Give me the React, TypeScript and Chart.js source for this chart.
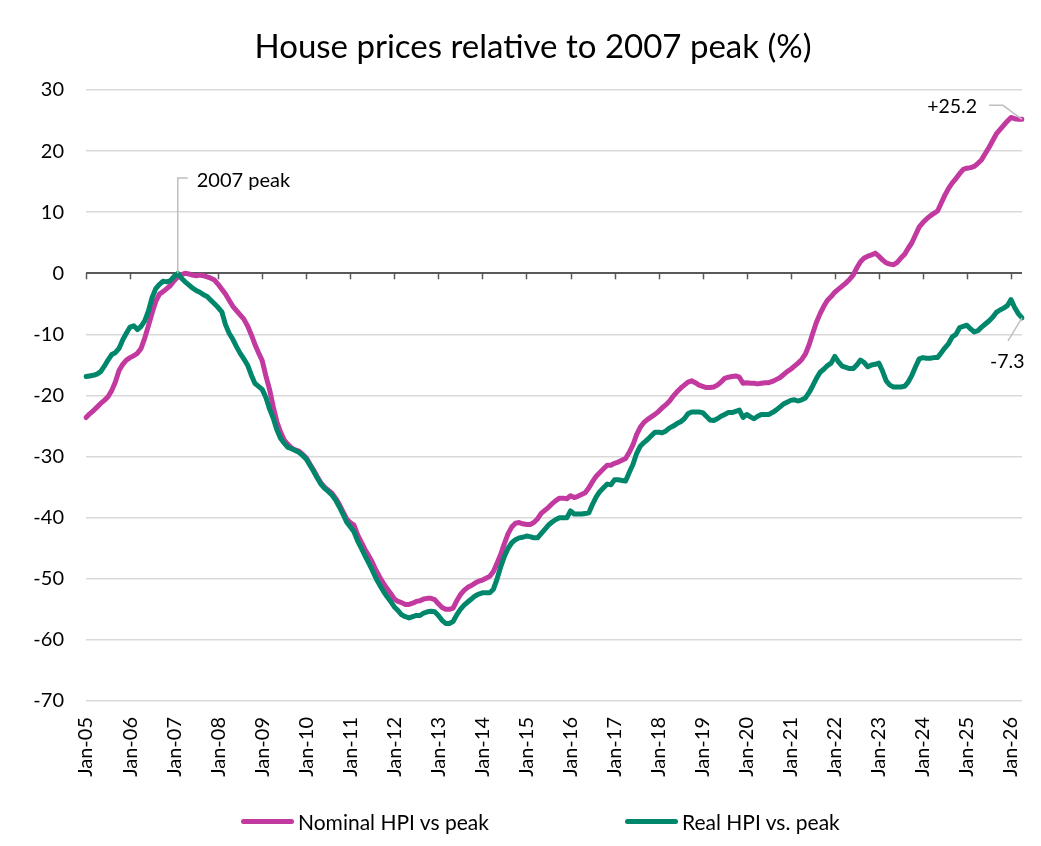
import React, { useEffect, useRef } from "react";
import { Chart, registerables } from "chart.js";

Chart.register(...registerables);

const TITLE = "House prices relative to 2007 peak (%)";
const SERIES_NAMES = ["Nominal HPI vs peak", "Real HPI vs. peak"];
const COLORS = ["#c2399f", "#00866b"];
const MONTHS = ["Jan", "Feb", "Mar", "Apr", "May", "Jun", "Jul", "Aug", "Sep", "Oct", "Nov", "Dec"];
const START_YEAR = 2005;
const Y_MIN = -70;
const Y_MAX = 30;
const Y_STEP = 10;
const PEAK_LABEL = "2007 peak";

// Monthly, Jan-05 .. Apr-26
const nominalHPI = [
  -23.6, -23.0, -22.5, -21.9, -21.3, -20.8, -20.2, -19.2, -17.8, -15.9, -14.9, -14.2,
  -13.8, -13.5, -13.1, -12.3, -10.6, -8.6, -6.5, -4.6, -3.4, -3.0, -2.5, -2.0,
  -1.2, -0.6, -0.2, 0.0, -0.1, -0.3, -0.4, -0.3, -0.4, -0.6, -0.8, -1.1,
  -1.8, -2.6, -3.4, -4.4, -5.4, -6.1, -6.8, -7.5, -8.6, -10.0, -11.6, -13.0,
  -14.3, -16.8, -19.0, -21.8, -24.3, -26.0, -27.3, -28.0, -28.6, -28.9, -29.1, -29.6,
  -30.2, -31.2, -32.2, -33.3, -34.3, -35.0, -35.5, -36.0, -36.8, -37.8, -39.0, -40.2,
  -40.8, -41.2, -42.8, -44.0, -45.2, -46.2, -47.3, -48.6, -49.7, -50.7, -51.6, -52.4,
  -53.3, -53.7, -53.9, -54.2, -54.2, -54.0, -53.7, -53.6, -53.3, -53.2, -53.2, -53.4,
  -54.1, -54.7, -55.0, -55.0, -54.8, -53.6, -52.6, -51.9, -51.4, -51.1, -50.7, -50.4,
  -50.2, -49.9, -49.6, -48.8, -47.4, -46.0, -44.2, -42.6, -41.5, -40.9, -40.8, -41.0,
  -41.1, -41.1, -40.8, -40.2, -39.3, -38.8, -38.3, -37.7, -37.2, -36.8, -36.8, -36.9,
  -36.4, -36.7, -36.5, -36.2, -35.9, -35.1, -34.1, -33.2, -32.6, -32.0, -31.4, -31.4,
  -31.1, -30.9, -30.6, -30.3, -29.3, -28.1, -26.4, -25.2, -24.4, -23.9, -23.5, -23.1,
  -22.6, -22.0, -21.5, -20.9, -20.1, -19.4, -18.8, -18.3, -17.8, -17.6, -17.9, -18.3,
  -18.5, -18.7, -18.7, -18.6, -18.3, -17.8, -17.2, -17.0, -16.9, -16.8, -17.0, -18.0,
  -17.9, -18.0, -18.0, -18.1, -18.0, -17.9, -17.9, -17.7, -17.4, -17.1, -16.6, -16.1,
  -15.7, -15.2, -14.7, -14.1, -13.2, -11.7, -9.8, -8.0, -6.6, -5.4, -4.4, -3.8,
  -3.1, -2.6, -2.1, -1.6, -1.0, -0.3, 0.9, 1.9, 2.5, 2.8, 3.0, 3.3,
  2.8, 2.2, 1.7, 1.5, 1.4, 1.8, 2.5, 3.1, 4.1, 5.0, 6.3, 7.6,
  8.3, 8.9, 9.4, 9.8, 10.2, 11.5, 12.8, 13.9, 14.8, 15.5, 16.3, 17.0,
  17.2, 17.3, 17.5, 18.0, 18.6, 19.6, 20.6, 21.7, 22.8, 23.5, 24.2, 24.9,
  25.5, 25.3, 25.2, 25.2,
];

const realHPI = [
  -16.9, -16.8, -16.7, -16.5, -16.1, -15.2, -14.2, -13.3, -13.0, -12.3, -10.9, -9.8,
  -8.8, -8.6, -9.2, -8.7, -7.8, -6.2, -4.0, -2.5, -1.8, -1.3, -1.4, -1.2,
  -0.5, 0.0, -0.8, -1.4, -1.9, -2.4, -2.8, -3.1, -3.5, -3.8, -4.4, -5.0,
  -5.6, -6.3, -8.4, -9.8, -10.8, -12.0, -13.1, -14.0, -15.0, -16.6, -18.0, -18.5,
  -19.0, -20.3, -22.2, -23.7, -25.6, -27.0, -27.8, -28.5, -28.7, -29.0, -29.3, -29.8,
  -30.4, -31.4, -32.4, -33.5, -34.5, -35.2, -35.7, -36.3, -37.1, -38.2, -39.4, -40.7,
  -41.5, -42.3, -43.8, -45.0, -46.2, -47.4, -48.6, -49.9, -51.0, -52.0, -52.9, -53.7,
  -54.6, -55.2, -55.9, -56.2, -56.4, -56.2, -56.0, -56.0, -55.6, -55.4, -55.3, -55.4,
  -56.0, -56.8, -57.3, -57.3, -57.0, -55.9, -55.0, -54.3, -53.8, -53.3, -52.8, -52.5,
  -52.3, -52.3, -52.3, -51.7, -50.0, -48.0, -46.3, -45.0, -44.1, -43.6, -43.3, -43.2,
  -43.0, -43.1, -43.3, -43.3, -42.6, -41.9, -41.2, -40.7, -40.3, -40.0, -40.0, -40.0,
  -38.9, -39.4, -39.4, -39.4, -39.3, -39.2, -37.8, -36.6, -35.7, -35.1, -34.5, -34.6,
  -33.8, -33.8, -33.9, -34.0, -32.6, -31.3, -29.5, -28.3, -27.7, -27.2, -26.6, -26.0,
  -26.0, -26.1, -25.8, -25.3, -25.0, -24.6, -24.3, -23.8, -23.0, -22.7, -22.7, -22.7,
  -22.8, -23.4, -24.0, -24.1, -23.8, -23.4, -23.1, -22.8, -22.8, -22.6, -22.4, -23.6,
  -23.1, -23.5, -23.8, -23.4, -23.1, -23.1, -23.1, -22.8, -22.4, -21.9, -21.4, -21.1,
  -20.8, -20.7, -20.9, -20.7, -20.4, -19.5, -18.4, -17.2, -16.2, -15.7, -15.1, -14.7,
  -13.6, -14.5, -15.2, -15.4, -15.6, -15.6, -15.0, -14.2, -14.6, -15.3, -15.0, -14.9,
  -14.7, -16.0, -17.6, -18.3, -18.6, -18.6, -18.6, -18.5, -17.8, -16.7, -15.3, -14.0,
  -13.8, -13.9, -13.9, -13.8, -13.8, -13.0, -12.2, -11.5, -10.4, -10.0, -8.9, -8.7,
  -8.5, -9.1, -9.6, -9.4, -8.8, -8.3, -7.8, -7.2, -6.4, -6.0, -5.7, -5.3,
  -4.3, -5.6, -6.6, -7.3,
];

const categories = nominalHPI.map(
  (_, i) => `${MONTHS[i % 12]}-${String((START_YEAR + Math.floor(i / 12)) % 100).padStart(2, "0")}`
);

const FONT = "Lato, 'Noto Sans', sans-serif";
const GREY_LEADER = "#bfbfbf";

const titlePlugin = {
  id: "customTitle",
  afterDraw(chart: any) {
    const { ctx, chartArea } = chart;
    ctx.save();
    ctx.font = `33px ${FONT}`;
    ctx.fillStyle = "#000";
    ctx.textAlign = "center";
    ctx.textBaseline = "middle";
    ctx.fillText(TITLE, (chartArea.left + chartArea.right) / 2 - 21, 47);
    ctx.restore();
  },
};

const axisTicksPlugin = {
  id: "zeroAxisTicks",
  beforeDatasetsDraw(chart: any) {
    const { ctx, scales } = chart;
    const x = scales.x;
    const y = scales.y;
    const y0 = y.getPixelForValue(0);
    ctx.save();
    ctx.strokeStyle = "#595959";
    ctx.lineWidth = 1.5;
    categories.forEach((c, i) => {
      if (c.startsWith("Jan")) {
        const px = Math.round(x.getPixelForValue(i)) + 0.5;
        ctx.beginPath();
        ctx.moveTo(px, y0);
        ctx.lineTo(px, y0 + 6);
        ctx.stroke();
      }
    });
    ctx.restore();
  },
};

const annotationPlugin = {
  id: "annotations",
  afterDatasetsDraw(chart: any) {
    const { ctx, scales } = chart;
    const x = scales.x;
    const y = scales.y;
    ctx.save();
    ctx.strokeStyle = GREY_LEADER;
    ctx.lineWidth = 1.5;
    ctx.fillStyle = "#000";
    ctx.textBaseline = "middle";

    // 2007 peak
    let peakIdx = 0;
    realHPI.forEach((v, i) => {
      if (i < 60 && v >= realHPI[peakIdx]) peakIdx = i;
    });
    const px = x.getPixelForValue(peakIdx);
    const py = y.getPixelForValue(realHPI[peakIdx]);
    const topY = y.getPixelForValue(15.6);
    ctx.beginPath();
    ctx.moveTo(px, py);
    ctx.lineTo(px, topY);
    ctx.lineTo(px + 10, topY);
    ctx.stroke();
    ctx.font = `20px ${FONT}`;
    ctx.textAlign = "left";
    ctx.fillText(PEAK_LABEL, px + 19, topY + 3);

    // last nominal
    ctx.font = `19.5px ${FONT}`;
    const last = nominalHPI.length - 1;
    const lx = x.getPixelForValue(last);
    const lyN = y.getPixelForValue(nominalHPI[last]);
    ctx.beginPath();
    ctx.moveTo(lx, lyN);
    ctx.lineTo(lx - 19, lyN - 14);
    ctx.lineTo(lx - 33, lyN - 14);
    ctx.stroke();
    ctx.textAlign = "right";
    const nomTxt = `${nominalHPI[last] > 0 ? "+" : ""}${nominalHPI[last].toFixed(1)}`;
    ctx.fillText(nomTxt, lx - 45, lyN - 13);

    // last real
    const lyR = y.getPixelForValue(realHPI[last]);
    ctx.beginPath();
    ctx.moveTo(lx, lyR);
    ctx.lineTo(lx - 14, lyR + 23);
    ctx.stroke();
    ctx.textAlign = "left";
    ctx.fillText(realHPI[last].toFixed(1), lx - 32, lyR + 44);

    ctx.restore();
  },
};

export default function App() {
  const canvasRef = useRef<HTMLCanvasElement | null>(null);

  useEffect(() => {
    if (!canvasRef.current) return;
    const chart = new Chart(canvasRef.current, {
      type: "line",
      data: {
        labels: categories,
        datasets: [
          {
            label: SERIES_NAMES[0],
            data: nominalHPI,
            borderColor: COLORS[0],
            backgroundColor: COLORS[0],
            borderWidth: 5,
            pointRadius: 0,
            tension: 0,
            borderJoinStyle: "round",
            borderCapStyle: "round",
            order: 1,
          },
          {
            label: SERIES_NAMES[1],
            data: realHPI,
            borderColor: COLORS[1],
            backgroundColor: COLORS[1],
            borderWidth: 5,
            pointRadius: 0,
            tension: 0,
            borderJoinStyle: "round",
            borderCapStyle: "round",
            order: 0,
          },
        ],
      },
      options: {
        responsive: false,
        animation: false,
        layout: { padding: { left: 25, right: 19, top: 90, bottom: 0 } },
        plugins: {
          legend: { display: false },
          tooltip: { enabled: false },
          title: { display: false },
        },
        scales: {
          x: {
            type: "category",
            offset: false,
            grid: { display: false, drawTicks: false },
            border: { display: false },
            ticks: {
              autoSkip: false,
              maxRotation: 90,
              minRotation: 90,
              padding: 16,
              color: "#000",
              font: { family: FONT, size: 20 },
              callback: function (_v: any, index: number) {
                const c = categories[index];
                return c.startsWith("Jan") ? c : null;
              },
            },
            afterFit: (scale: any) => {
              scale.height = 145;
              scale.paddingLeft = 0;
              scale.paddingRight = 0;
            },
          },
          y: {
            min: Y_MIN,
            max: Y_MAX,
            border: { display: false },
            grid: {
              drawTicks: false,
              color: (ctx: any) => (ctx.tick && ctx.tick.value === 0 ? "#595959" : "#d9d9d9"),
              lineWidth: (ctx: any) => (ctx.tick && ctx.tick.value === 0 ? 2 : 1.5),
            },
            ticks: {
              stepSize: Y_STEP,
              padding: 22,
              color: "#000",
              font: { family: FONT, size: 20 },
            },
            afterFit: (scale: any) => {
              scale.width = 61;
            },
          },
        },
      },
      plugins: [axisTicksPlugin, annotationPlugin, titlePlugin],
    });
    return () => chart.destroy();
  }, []);

  const legendItem = (i: number, left: number) => (
    <div
      key={i}
      style={{
        position: "absolute",
        left,
        top: 807,
        display: "flex",
        alignItems: "center",
        height: 28,
        fontFamily: FONT,
        fontSize: 21,
        color: "#000",
        whiteSpace: "nowrap",
      }}
    >
      <span
        style={{
          display: "inline-block",
          width: 53,
          height: 5,
          borderRadius: 3,
          background: COLORS[i],
          marginRight: 4,
        }}
      />
      <span>{SERIES_NAMES[i]}</span>
    </div>
  );

  return (
    <div style={{ position: "fixed", left: 0, top: 0, width: 1041, height: 846, background: "#fff" }}>
      <canvas ref={canvasRef} width={1041} height={846} style={{ display: "block" }} />
      {legendItem(0, 241)}
      {legendItem(1, 625)}
    </div>
  );
}
